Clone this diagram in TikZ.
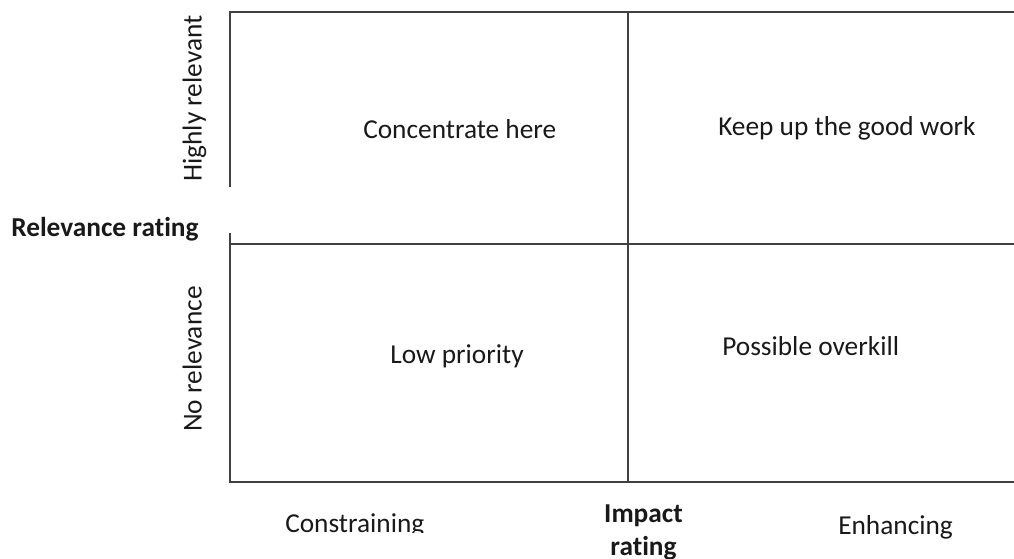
\documentclass[tikz,border=0pt]{standalone}
\usepackage{fontspec}
\setmainfont[Ligatures={NoCommon}]{Carlito}
% keep "t" and "i" as separate glyphs
\newcommand{\tisep}{t\kern0pt i}
\begin{document}
\begin{tikzpicture}[x=0.75pt,y=-0.75pt,
  gridline/.style={draw=black!75,line width=1.5pt},
  lbl/.style={inner sep=0pt,text=black!90,font=\fontsize{20.5pt}{24.6pt}\selectfont},
  axislbl/.style={lbl,font=\fontsize{20.5pt}{24.6pt}\selectfont\bfseries}]
\useasboundingbox (0,0) rectangle (1014,558);

% grid corners and crossings
\coordinate (tl) at (230,11.5);
\coordinate (tm) at (627.7,11.5);
\coordinate (tr) at (1014,11.5);
\coordinate (gapTop) at (230,186.7);
\coordinate (gapBot) at (230,232.7);
\coordinate (ml) at (230,243.7);
\coordinate (mr) at (1014,243.7);
\coordinate (bl) at (230,482.3);
\coordinate (bm) at (627.7,482.3);
\coordinate (br) at (1014,482.3);

% frame and quadrant dividers
\draw[gridline] (gapTop) -- (tl) -- (tr);
\draw[gridline] (gapBot) -- (bl) -- (br);
\draw[gridline] (ml) -- (mr);
\draw[gridline] (tm) -- (bm);

% quadrant texts
\node[lbl,anchor=base west] (q1) at (363,138) {Concentrate here};
\node[lbl,anchor=base west] (q2) at (718,135) {Keep up the good work};
\node[lbl,anchor=base west] (q3) at (390,363) {Low priority};
\node[lbl,anchor=base west] (q4) at (722,355) {Possible overkill};

% vertical axis
\node[lbl,anchor=base west,rotate=90] (hi) at (201.7,182) {Highly relevant};
\node[lbl,anchor=base west,rotate=90] (no) at (201.7,432) {No relevance};
\node[axislbl,anchor=base west] (rel) at (11,236) {Relevance ra\tisep ng};

% horizontal axis
\begin{scope}
  \clip (270,495) rectangle (450,532);
  \node[lbl,anchor=base west] (con) at (285,532) {Constraining};
\end{scope}
\node[axislbl,anchor=base] (imp1) at (643.5,522) {Impact};
\node[axislbl,anchor=base] (imp2) at (643.5,555) {ra\tisep ng};
\node[lbl,anchor=base west] (enh) at (838,534) {Enhancing};
\end{tikzpicture}
\end{document}
